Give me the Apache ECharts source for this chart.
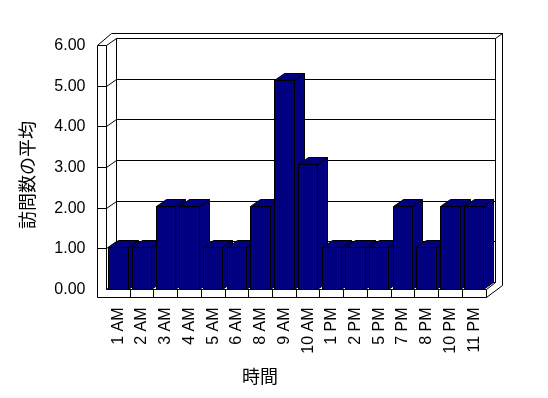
<!DOCTYPE html>
<html><head><meta charset="utf-8">
<script src="https://cdn.jsdelivr.net/npm/echarts@6/dist/echarts.min.js"></script>
<style>html,body{margin:0;padding:0;background:#fff}#c{width:548px;height:398px}</style>
</head><body><div id="c"></div>
<script>
const categories = ['1 AM','2 AM','3 AM','4 AM','5 AM','6 AM','8 AM','9 AM','10 AM','1 PM','2 PM','5 PM','7 PM','8 PM','10 PM','11 PM'];
const visits = [1,1,2,2,1,1,2,5,3,1,1,1,2,1,2,2];
const yTicks = [0,1,2,3,4,5,6];
const yAxisName = '訪問数の平均';
const xAxisName = '時間';

const FONT = '"Liberation Sans", Arial, sans-serif';
const CJK = '"Noto Sans CJK JP", sans-serif';
const NAVY = '#000080';
const WALL_D = [9.5, -7];
const WALL_T = 9.5;
const FLOOR_T = 8;
const BACK_T = [6.5, -5.5];
const BAR_D = [10, -7];
const BAR_RATIO = 0.82;

function c(v){ return Math.round(v - 0.5) + 0.5; }
function ln(x1,y1,x2,y2){ return {type:'line', shape:{x1:x1,y1:y1,x2:x2,y2:y2}, style:{stroke:'#000', lineWidth:1}}; }

function renderBox(params, api){
  const cs = params.coordSys;
  const L = c(cs.x), R = c(cs.x + cs.width), T = c(cs.y), B = c(cs.y + cs.height);
  const dx = WALL_D[0], dy = WALL_D[1];
  const Lo = c(cs.x - WALL_T);
  const Bo = c(cs.y + cs.height + FLOOR_T);
  const bL = c(cs.x + dx), bR = c(cs.x + cs.width + dx), bT = c(cs.y + dy), bB = c(cs.y + cs.height + dy);
  const oR = c(cs.x + cs.width + dx + BACK_T[0]), oT = c(cs.y + dy + BACK_T[1]);
  const oTL = c(cs.x - WALL_T + dx + BACK_T[0] - 2);
  const oRB = c(cs.y + cs.height + FLOOR_T + dy + BACK_T[1]);
  const ch = [];
  ch.push({type:'polygon', shape:{points:[[Lo,T],[oTL,oT],[oR,oT],[oR,oRB],[R,Bo],[Lo,Bo]]}, style:{fill:'#fff', stroke:'#000', lineWidth:1}});
  ch.push({type:'polygon', shape:{points:[[bL,bT],[bR,bT],[bR,bB],[bL,bB]]}, style:{fill:'#fff', stroke:'#000', lineWidth:1}});
  ch.push(ln(Lo,T,L,T));
  ch.push(ln(L,T,L,B));
  ch.push(ln(L,B,R,B));
  ch.push(ln(R,B,R,Bo));
  ch.push(ln(L,T,bL,bT));
  ch.push(ln(L,B,bL,bB));
  ch.push(ln(R,B,bR,bB));
  ch.push(ln(bR,bT,oR,oT));
  for (let k = 1; k < yTicks.length - 1; k++) {
    const y = c(api.coord([0, yTicks[k]])[1]);
    ch.push(ln(Lo,y,L,y));
    ch.push(ln(L,y,bL,y+dy));
    ch.push(ln(bL,y+dy,bR,y+dy));
  }
  const n = categories.length;
  for (let k = 1; k < n; k++) {
    const x = c(cs.x + k * cs.width / n);
    ch.push(ln(x,B,x,Bo));
  }
  return {type:'group', children:ch};
}

function renderBar(params, api){
  const i = api.value(0), v = api.value(1);
  const p0 = api.coord([i, 0]), p1 = api.coord([i, v]);
  const band = api.size([1, 0])[0];
  const w = band * BAR_RATIO;
  const x0 = c(p0[0] - w/2), x1 = c(p0[0] + w/2);
  const yb = c(p0[1]), yt = c(p1[1]);
  const dx = BAR_D[0], dy = BAR_D[1];
  const st = {fill: NAVY, stroke:'#000', lineWidth:1};
  return {type:'group', children:[
    {type:'polygon', shape:{points:[[x1,yt],[x1+dx,yt+dy],[x1+dx,yb+dy],[x1,yb]]}, style:st},
    {type:'polygon', shape:{points:[[x0,yt],[x0+dx,yt+dy],[x1+dx,yt+dy],[x1,yt]]}, style:st},
    {type:'rect', shape:{x:x0,y:yt,width:x1-x0,height:yb-yt}, style:st}
  ]};
}

const chart = echarts.init(document.getElementById('c'), null, {renderer:'canvas'});
chart.setOption({
  animation:false,
  backgroundColor:'#fff',
  grid:{left:106.5, right:62, top:45.5, bottom:108.5, containLabel:false, outerBoundsMode:'none'},
  xAxis:{type:'category', data:categories,
    axisLine:{show:false}, axisTick:{show:false}, splitLine:{show:false},
    axisLabel:{rotate:90, interval:0, margin:18, fontSize:16, fontFamily:FONT, color:'#000'}},
  yAxis:[
    {type:'value', min:yTicks[0], max:yTicks[yTicks.length-1], interval:1,
      axisLine:{show:false}, axisTick:{show:false}, splitLine:{show:false},
      axisLabel:{margin:21, fontSize:16, fontFamily:FONT, color:'#000', formatter:function(v){return v.toFixed(2);}}},
    {type:'value', min:0, max:5.85, show:false, splitLine:{show:false}}
  ],
  graphic:[
    {type:'text', x:27.5, y:175, rotation:Math.PI/2, style:{text:yAxisName, font:'18px ' + CJK, fill:'#000', align:'center', verticalAlign:'middle', textAlign:'center', textVerticalAlign:'middle'}},
    {type:'text', x:260, y:376, style:{text:xAxisName, font:'18px ' + CJK, fill:'#000', align:'center', verticalAlign:'middle', textAlign:'center', textVerticalAlign:'middle'}}
  ],
  series:[
    {type:'custom', name:'box', z:1, silent:true, xAxisIndex:0, yAxisIndex:0, renderItem:renderBox, data:[[0,0]], encode:{x:0,y:1}},
    {type:'custom', name:'visits', z:2, silent:true, xAxisIndex:0, yAxisIndex:1, renderItem:renderBar,
      data:visits.map(function(v,i){return [i,v];}), encode:{x:0,y:1}}
  ]
});
</script></body></html>
